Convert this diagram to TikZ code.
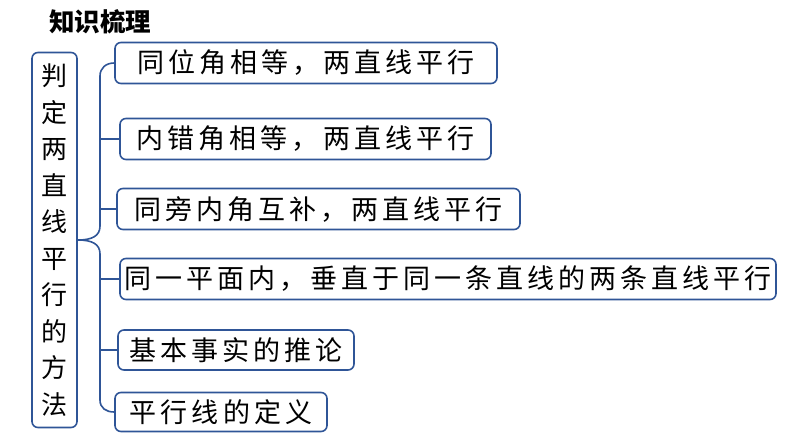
\documentclass[tikz,border=0pt]{standalone}
\usepackage{fontspec}
\newfontfamily\cjk{Noto Sans CJK SC}
\newfontfamily\cjkwide[LetterSpace=15]{Noto Sans CJK SC}
\definecolor{boxblue}{RGB}{47,85,151}

\begin{document}
\begin{tikzpicture}[x=1pt,y=-1pt,
    item/.style={draw=boxblue, line width=1.6pt, rounded corners=6pt, inner sep=0pt,
      minimum height=41pt, font=\cjkwide\fontsize{27}{30}\selectfont},
    brace/.style={draw=boxblue, line width=1.6pt}]
  \useasboundingbox (0,0) rectangle (794,447);

  \node[font=\cjk\bfseries\fontsize{25.5}{27}\selectfont] (title) at (100,22) {知识梳理};

  \node[draw=boxblue, line width=1.6pt, rounded corners=6pt, inner sep=0pt,
    minimum width=45pt, minimum height=375pt, align=center,
    font=\cjk\fontsize{26}{36.5}\selectfont] (main) at (54.5,240)
    {判\\定\\两\\直\\线\\平\\行\\的\\方\\法};

  \node[item, minimum width=382pt] (a) at (306,63) {同位角相等，两直线平行};
  \node[item, minimum width=371pt] (b) at (305.5,139) {内错角相等，两直线平行};
  \node[item, minimum width=403pt] (c) at (318.5,209) {同旁内角互补，两直线平行};
  \node[item, minimum width=656pt] (d) at (448,279) {同一平面内，垂直于同一条直线的两条直线平行};
  \node[item, minimum width=236pt, minimum height=40pt] (e) at (236,350) {基本事实的推论};
  \node[item, minimum width=212pt, minimum height=39pt] (f) at (221,412) {平行线的定义};

  % brace
  \coordinate (spine) at (100,240);
  \draw[brace] (main.east) .. controls (92,240) and (100,236) .. (100,226)
    -- (100,76) .. controls (100,68) and (106,63) .. (a.west);
  \draw[brace] (main.east) .. controls (92,240) and (100,244) .. (100,254)
    -- (100,400) .. controls (100,408) and (106,412) .. (f.west);
  \draw[brace] (spine |- b.west) -- (b.west);
  \draw[brace] (spine |- c.west) -- (c.west);
  \draw[brace] (spine |- d.west) -- (d.west);
  \draw[brace] (spine |- e.west) -- (e.west);
\end{tikzpicture}
\end{document}
